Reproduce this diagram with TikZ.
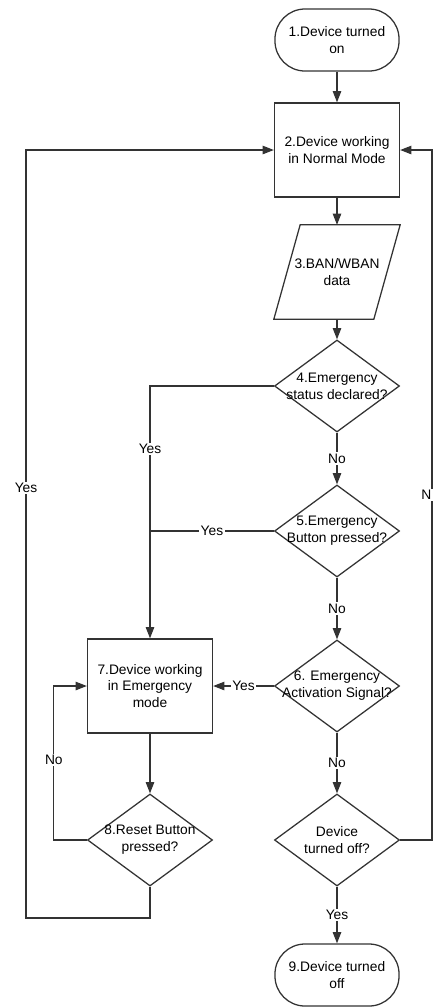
\documentclass[tikz,border=0pt]{standalone}
\usepackage{fontspec}
\setmainfont{Liberation Sans}
\usetikzlibrary{shapes.geometric,arrows.meta}

\tikzset{
    terminal/.style={draw, rectangle, rounded corners=0.75cm,
        minimum width=3.1cm, minimum height=1.55cm, align=center},
    process/.style={draw, rectangle,
        minimum width=3.125cm, minimum height=2.35cm, align=center},
    iodata/.style={rectangle, inner sep=0pt,
        minimum width=3.125cm, minimum height=2.325cm, align=center},
    decision/.style={draw, diamond, inner sep=0pt,
        minimum width=3.125cm, minimum height=2.3cm},
    flow/.style={-{Triangle[length=8pt,width=6pt]}},
    answer/.style={fill=white, inner sep=1pt},
    every label/.style={align=center},
}

\begin{document}
\begin{tikzpicture}[x=0.025cm, y=-0.025cm, line width=0.9pt, draw=black!80,
        font=\fontsize{9.8}{12}\selectfont]
    \useasboundingbox (0,0) rectangle (433,1008);

    % main column
    \node[terminal] (start) at (337,40) {1.Device turned\\on};
    \node[process] (normal) at (337,150) {2.Device working\\in Normal Mode};
    \node[iodata] (data) at (337,272) {3.BAN/WBAN\\data};
    \draw 
        (data.south west) -- ++(100,0) -- (data.north east) -- ++(-100,0) -- cycle;
    \node[decision, label={center:4.Emergency\\status declared?}] (status) at (337,386) {};
    \node[decision, label={center:5.Emergency\\Button pressed?}] (button) at (337,531) {};
    \node[decision, label={center:6. Emergency\\Activation Signal?}] (signal) at (337,686) {};
    \node[decision, label={center:Device\\turned off?}] (off) at (337,840) {};
    \node[terminal] (stop) at (337,975) {9.Device turned\\off};

    % emergency column
    \node[process] (emergency) at (150,686) {7.Device working\\in Emergency\\mode};
    \node[decision, label={center:8.Reset Button\\pressed?}] (reset) at (150,840) {};

    \coordinate (yesloop) at (26,918);
    \coordinate (offloop) at (432,840);

    \draw 
        [flow] (start) -- (normal);
    \draw 
        [flow] (normal) -- (data);
    \draw 
        [flow] (data) -- (status);
    \draw 
        [flow] (status) -- node[answer]{No} (button);
    \draw 
        [flow] (button) -- node[answer]{No} (signal);
    \draw 
        [flow] (signal) -- node[answer]{No} (off);
    \draw 
        [flow] (off) -- node[answer]{Yes} (stop);

    \draw 
        [flow] (status.west) -| node[answer, pos=0.625]{Yes} (emergency.north);
    \draw 
        (button.west) -- node[answer]{Yes} (button.west -| emergency.north);
    \draw 
        [flow] (signal.west) -- node[answer]{Yes} (emergency.east);
    \draw 
        [flow] (emergency) -- (reset);
    \draw 
        [flow] (reset.west) -- ++(-33,0) |- node[answer, pos=0.26]{No} (emergency.west);
    \draw 
        [flow] (reset.south) |- (yesloop) |- node[answer, pos=0.28]{Yes} (normal.west);
    \draw 
        [flow] (off.east) -- (offloop) |- node[answer, pos=0.25, anchor=east, xshift=1pt]{N} (normal.east);
\end{tikzpicture}
\end{document}
